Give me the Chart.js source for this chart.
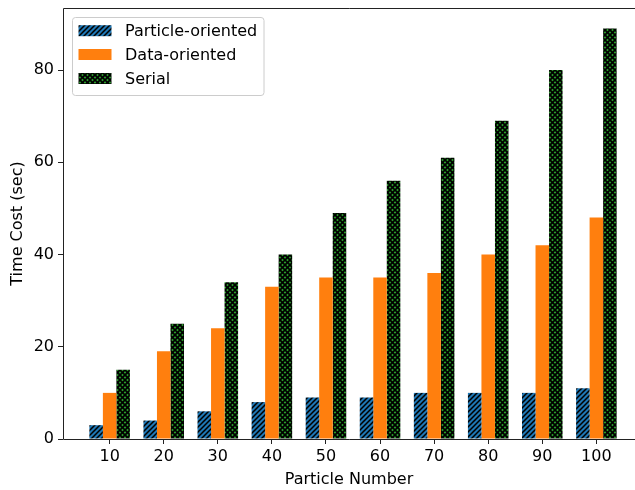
<!DOCTYPE html>
<html>
<head>
<meta charset="utf-8">
<script src="https://cdn.jsdelivr.net/npm/chart.js@4.4.1/dist/chart.umd.min.js"></script>
<style>
  html, body { margin: 0; padding: 0; background: #fff; overflow: hidden; }
  #wrap { width: 635px; height: 490px; }
</style>
</head>
<body>
<div id="wrap"><canvas id="c" width="635" height="490"></canvas></div>
<script>
// ---- data ----
const categories = ['10', '20', '30', '40', '50', '60', '70', '80', '90', '100'];
const particleOriented = [3, 4, 6, 8, 9, 9, 10, 10, 10, 11];
const dataOriented = [10, 19, 24, 33, 35, 35, 36, 40, 42, 48];
const serial = [15, 25, 34, 40, 49, 56, 61, 69, 80, 89];
const seriesNames = ['Particle-oriented', 'Data-oriented', 'Serial'];
const yTicks = [0, 20, 40, 60, 80];

const FONT = 'DejaVu Sans';

function makePattern(bg, kind) {
  const T = 10, d = 5;
  const cv = document.createElement('canvas');
  cv.width = T; cv.height = T;
  const g = cv.getContext('2d');
  g.fillStyle = bg;
  g.fillRect(0, 0, T, T);
  g.strokeStyle = '#000';
  g.lineWidth = kind === 'x' ? 1.7 : 1.5;
  g.lineCap = 'square';
  for (let x0 = -2 * T; x0 <= 2 * T; x0 += d) {
    if (kind === '/' || kind === 'x') {
      g.beginPath(); g.moveTo(x0, T); g.lineTo(x0 + T, 0); g.stroke();
    }
    if (kind === 'x') {
      g.beginPath(); g.moveTo(x0, 0); g.lineTo(x0 + T, T); g.stroke();
    }
  }
  return document.getElementById('c').getContext('2d').createPattern(cv, 'repeat');
}

const blueFill = makePattern('#1f77b4', '/');
const orangeFill = '#ff7f0e';
const greenFill = makePattern('#2ca02c', 'x');
const fills = [blueFill, orangeFill, greenFill];

const toPoints = arr => arr.map((v, i) => ({ x: i, y: v }));

const legendPlugin = {
  id: 'mplLegend',
  afterDraw(chart) {
    const ctx = chart.ctx;
    ctx.save();
    const x = 72.5, y = 17.5, w = 191.5, h = 78, r = 3;
    ctx.beginPath();
    ctx.moveTo(x + r, y);
    ctx.lineTo(x + w - r, y); ctx.quadraticCurveTo(x + w, y, x + w, y + r);
    ctx.lineTo(x + w, y + h - r); ctx.quadraticCurveTo(x + w, y + h, x + w - r, y + h);
    ctx.lineTo(x + r, y + h); ctx.quadraticCurveTo(x, y + h, x, y + h - r);
    ctx.lineTo(x, y + r); ctx.quadraticCurveTo(x, y, x + r, y);
    ctx.closePath();
    ctx.fillStyle = 'rgba(255,255,255,0.8)';
    ctx.fill();
    ctx.strokeStyle = '#cccccc';
    ctx.lineWidth = 1;
    ctx.stroke();
    const rows = [30.7, 54.5, 78.5];
    ctx.font = '16px "' + FONT + '"';
    ctx.textBaseline = 'middle';
    seriesNames.forEach((name, i) => {
      ctx.fillStyle = fills[i];
      ctx.fillRect(78.5, rows[i] - 5.5, 33, 11);
      ctx.fillStyle = '#000';
      ctx.fillText(name, 125, rows[i] + 1);
    });
    ctx.restore();
  }
};

const framePlugin = {
  id: 'frame',
  afterDraw(chart) {
    const a = chart.chartArea, ctx = chart.ctx;
    const L = Math.round(a.left) + 0.5, T = Math.round(a.top) + 0.5, B = Math.round(a.bottom) + 0.5;
    ctx.save();
    ctx.strokeStyle = '#222';
    ctx.lineWidth = 1;
    ctx.beginPath();
    ctx.moveTo(chart.width + 2, T); ctx.lineTo(L, T); ctx.lineTo(L, B); ctx.lineTo(chart.width + 2, B);
    ctx.stroke();
    ctx.restore();
  }
};

Chart.defaults.font.family = FONT;
Chart.defaults.font.size = 16;
Chart.defaults.color = '#000';

new Chart(document.getElementById('c'), {
  type: 'bar',
  data: {
    datasets: [
      { label: seriesNames[0], data: toPoints(particleOriented), backgroundColor: blueFill },
      { label: seriesNames[1], data: toPoints(dataOriented), backgroundColor: orangeFill },
      { label: seriesNames[2], data: toPoints(serial), backgroundColor: greenFill }
    ]
  },
  options: {
    responsive: false,
    animation: false,
    layout: { padding: { top: 8, left: 0, right: 0, bottom: 0 } },
    datasets: { bar: { categoryPercentage: 0.75, barPercentage: 1.0, borderWidth: 0 } },
    plugins: { legend: { display: false }, tooltip: { enabled: false } },
    scales: {
      x: {
        type: 'linear',
        min: -0.8625,
        max: 9.7144,
        offset: false,
        afterBuildTicks: s => { s.ticks = categories.map((c, i) => ({ value: i })); },
        afterFit: s => { s.height = 51; s.paddingLeft = 0; s.paddingRight = 0; },
        ticks: { callback: v => categories[v], padding: 3, maxRotation: 0, autoSkip: false },
        grid: { offset: false, drawOnChartArea: false, drawTicks: true, tickLength: 5, color: '#222' },
        border: { display: false },
        title: { display: true, text: 'Particle Number', padding: { top: 0, bottom: 1 } }
      },
      y: {
        min: 0,
        max: 93.45,
        afterBuildTicks: s => { s.ticks = yTicks.map(v => ({ value: v })); },
        afterFit: s => { s.width = 63; s.paddingTop = 0; s.paddingBottom = 0; },
        ticks: { padding: 4 },
        grid: { drawOnChartArea: false, drawTicks: true, tickLength: 5, color: '#222' },
        border: { display: false },
        title: { display: true, text: 'Time Cost (sec)', padding: { top: 8, bottom: 0 } }
      }
    }
  },
  plugins: [legendPlugin, framePlugin]
});
</script>
</body>
</html>
